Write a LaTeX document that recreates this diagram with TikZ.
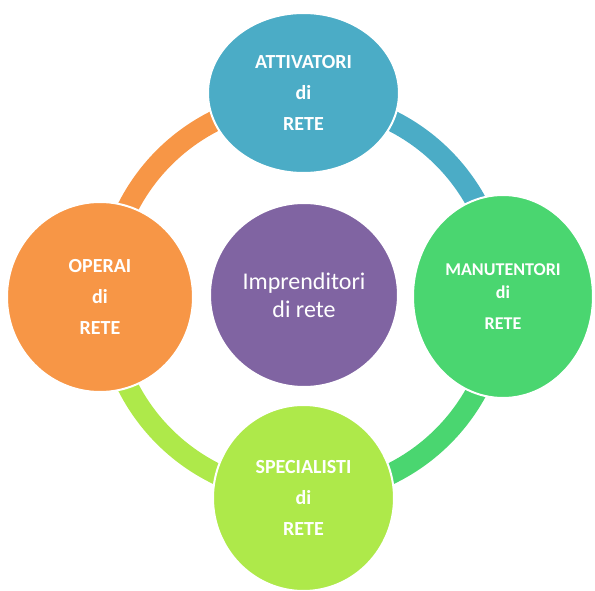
\documentclass[tikz,border=0pt]{standalone}
\usepackage{fontspec}
\setmainfont{Carlito}
\usetikzlibrary{shapes.geometric}

\definecolor{attcol}{HTML}{4BACC6}
\definecolor{mancol}{HTML}{4AD670}
\definecolor{specol}{HTML}{AEE94A}
\definecolor{opecol}{HTML}{F79646}
\definecolor{impcol}{HTML}{8064A2}

\begin{document}
\begin{tikzpicture}[x=1pt,y=1pt,
  blob/.style={ellipse,draw=white,line width=2pt,inner sep=0pt,text=white,align=center},
  role/.style={blob,font=\bfseries\fontsize{20}{31}\selectfont},
  band/.style={line width=21pt}]
%%Frame
\useasboundingbox (0,0) rectangle (595,590);
%%Ring
\coordinate (ring) at (303.5,293);
\path (ring) ++(90:197) coordinate (ringN);
\path (ring) ++(0:197) coordinate (ringE);
\path (ring) ++(-90:197) coordinate (ringS);
\path (ring) ++(180:197) coordinate (ringW);
\draw[band,opecol] (ringW) to[bend left=45] (ringN);
\draw[band,attcol] (ringN) to[bend left=45] (ringE);
\draw[band,mancol] (ringE) to[bend left=45] (ringS);
\draw[band,specol] (ringS) to[bend left=45] (ringW);
%%Roles
\node[role,fill=attcol,minimum width=191pt,minimum height=160pt] (att) at (303.5,497) {ATTIVATORI\\di\\RETE};
\node[role,fill=mancol,minimum width=180pt,minimum height=203pt,font=\bfseries\fontsize{18}{31}\selectfont] (man) at (503,293.5) {MANUTENTORI\\[-8pt]di\\RETE};
\node[role,fill=specol,minimum width=181pt,minimum height=186pt] (spe) at (303.5,92) {SPECIALISTI\\di\\RETE};
\node[role,fill=opecol,minimum width=186pt,minimum height=190pt] (ope) at (100,293) {OPERAI\\di\\RETE};
%%Centre
\node[blob,fill=impcol,minimum width=188pt,minimum height=184pt,font=\fontsize{24}{28}\selectfont] (imp) at (304,295) {Imprenditori\\di rete};
\end{tikzpicture}
\end{document}
